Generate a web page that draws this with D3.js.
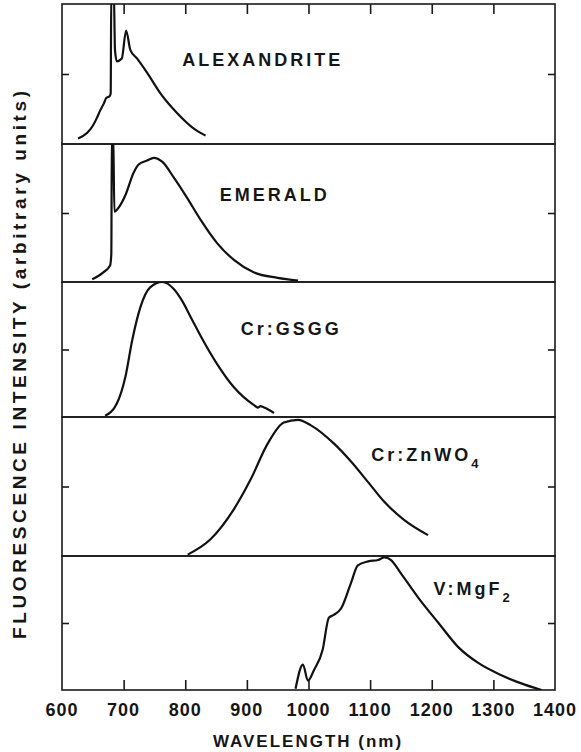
<!DOCTYPE html>
<html>
<meta charset="utf-8">
<style>
    body { margin: 0; background: #fff; }
    text { font-family: 'Liberation Sans', Arial, sans-serif; font-weight: bold; fill: #161616; }
</style>
<body>
<svg width="581" height="752"></svg>
<script src="https://d3js.org/d3.v7.min.js"></script>
<script>
    // spectra: [wavelength (nm), intensity as fraction of panel height]
    let alexandrite = [[626,0.04],[641,0.08],[650,0.13],[657,0.19],[662,0.24],[668,0.29],[672,0.33],[677,0.34],[679,0.36],
        [680,1.1],[684,1.1],[686,0.67],[689,0.59],[697,0.61],[704,0.81],[711,0.67],[722,0.61],
        [738,0.51],[760,0.36],[787,0.22],[814,0.11],[833,0.06]];
    let emerald = [[649,0.02],[667,0.07],[678,0.12],[680,0.2],[681,1.1],[683,1.1],[685,0.51],
        [692,0.54],[703,0.63],[716,0.79],[724,0.85],[738,0.88],[749,0.90],[763,0.87],[781,0.76],
        [803,0.61],[825,0.45],[852,0.28],[879,0.16],[911,0.07],[950,0.03],[983,0.01]];
    let crGSGG = [[670,0.01],[689,0.10],[703,0.30],[714,0.57],[727,0.81],[743,0.96],[763,1.0],
        [781,0.95],[795,0.86],[810,0.73],[825,0.60],[852,0.39],[879,0.22],[911,0.09],[918,0.07],[922,0.08],
        [928,0.07],[944,0.03]];
    let crZnWO4 = [[804,0.01],[841,0.12],[878,0.33],[906,0.55],[934,0.81],[960,0.96],[983,0.98],
        [1004,0.94],[1041,0.81],[1069,0.68],[1097,0.53],[1123,0.39],[1155,0.26],[1194,0.15]];
    let vMgF2 = [[979,0.01],[991,0.19],[999,0.07],[1009,0.15],[1023,0.30],[1033,0.54],[1041,0.56],
        [1053,0.61],[1069,0.80],[1080,0.93],[1097,0.96],[1113,0.97],[1123,0.99],[1134,0.97],
        [1150,0.87],[1178,0.69],[1211,0.50],[1243,0.32],[1276,0.20],[1313,0.11],[1351,0.04],[1378,0.0]];

    let spectra = [alexandrite, emerald, crGSGG, crZnWO4, vMgF2];
    let panelNames = ["ALEXANDRITE", "EMERALD", "Cr:GSGG", "Cr:ZnWO", "V:MgF"];
    let panelSubs = ["", "", "", "4", "2"];
    let labelAt = [[795,0.56],[856,0.59],[890,0.61],[1102,0.68],[1203,0.71]];
    let xTicks = [600, 700, 800, 900, 1000, 1100, 1200, 1300, 1400];

    let margin = {left: 62, right: 26, top: 4},
        panelEdges = [4, 144, 282, 417, 556, 690];

    let svg = d3.select("svg");

    let xScale = d3.scaleLinear()
        .domain([600, 1400])
        .range([margin.left, 581 - margin.right]);

    let lineGenerator = d3.line()
        .x(d => xScale(d[0]))
        .curve(d3.curveMonotoneX);

    spectra.forEach(function(data, i) {
        let y0 = panelEdges[i + 1], y1 = panelEdges[i];
        let yScale = d3.scaleLinear().domain([0, 1]).range([y0, y1]);

        svg.append("clipPath").attr("id", "clip" + i)
            .append("rect")
            .attr("x", xScale(600)).attr("y", y1)
            .attr("width", xScale(1400) - xScale(600)).attr("height", y0 - y1);

        // panel frame
        svg.append("rect")
            .attr("x", xScale(600)).attr("y", y1)
            .attr("width", xScale(1400) - xScale(600)).attr("height", y0 - y1)
            .style("fill", "none").style("stroke", "#1a1a1a").style("stroke-width", 1.6);

        // small intensity ticks at mid height, both sides
        svg.append("g")
            .attr("transform", "translate(" + xScale(600) + ",0)")
            .call(d3.axisRight(yScale).tickValues([0.5]).tickSize(7).tickFormat(""))
            .call(g => g.select(".domain").remove())
            .selectAll("line").style("stroke", "#1a1a1a").style("stroke-width", 1.6);
        svg.append("g")
            .attr("transform", "translate(" + xScale(1400) + ",0)")
            .call(d3.axisLeft(yScale).tickValues([0.5]).tickSize(7).tickFormat(""))
            .call(g => g.select(".domain").remove())
            .selectAll("line").style("stroke", "#1a1a1a").style("stroke-width", 1.6);

        svg.append("path")
            .datum(data)
            .attr("clip-path", "url(#clip" + i + ")")
            .attr("d", lineGenerator.y(d => yScale(d[1])))
            .style("fill", "none")
            .style("stroke", "#111")
            .style("stroke-width", 2.2)
            .style("stroke-linejoin", "round");

        let label = svg.append("text")
            .attr("x", xScale(labelAt[i][0]))
            .attr("y", yScale(labelAt[i][1]))
            .style("font-size", "18px")
            .style("letter-spacing", "3px")
            .text(panelNames[i]);
        if (panelSubs[i]) {
            label.append("tspan")
                .attr("dy", 7)
                .style("font-size", "13px")
                .text(panelSubs[i]);
        }
    });

    // wavelength ticks on top and bottom
    let inner = xTicks.slice(1, -1);
    svg.append("g")
        .attr("transform", "translate(0," + panelEdges[0] + ")")
        .call(d3.axisBottom(xScale).tickValues(inner).tickSize(10).tickFormat(""))
        .call(g => g.select(".domain").remove())
        .selectAll("line").style("stroke", "#1a1a1a").style("stroke-width", 1.6);

    svg.append("g")
        .attr("transform", "translate(0," + panelEdges[5] + ")")
        .call(d3.axisTop(xScale).tickValues(inner).tickSize(10).tickFormat(""))
        .call(g => g.select(".domain").remove())
        .selectAll("line").style("stroke", "#1a1a1a").style("stroke-width", 1.6);

    svg.append("g").selectAll("text")
        .data(xTicks)
        .join("text")
        .attr("x", d => xScale(d))
        .attr("y", 716)
        .attr("text-anchor", "middle")
        .style("font-size", "18px")
        .style("letter-spacing", "1px")
        .text(d => d);

    svg.append("text")
        .attr("x", 308)
        .attr("y", 747)
        .attr("text-anchor", "middle")
        .style("font-size", "17px")
        .style("letter-spacing", "2px")
        .text("WAVELENGTH (nm)");

    svg.append("text")
        .attr("transform", "translate(26,365) rotate(-90)")
        .attr("text-anchor", "middle")
        .attr("textLength", 548)
        .attr("lengthAdjust", "spacing")
        .style("font-size", "19px")
        .text("FLUORESCENCE INTENSITY (arbitrary units)");
</script>
</body>
</html>
